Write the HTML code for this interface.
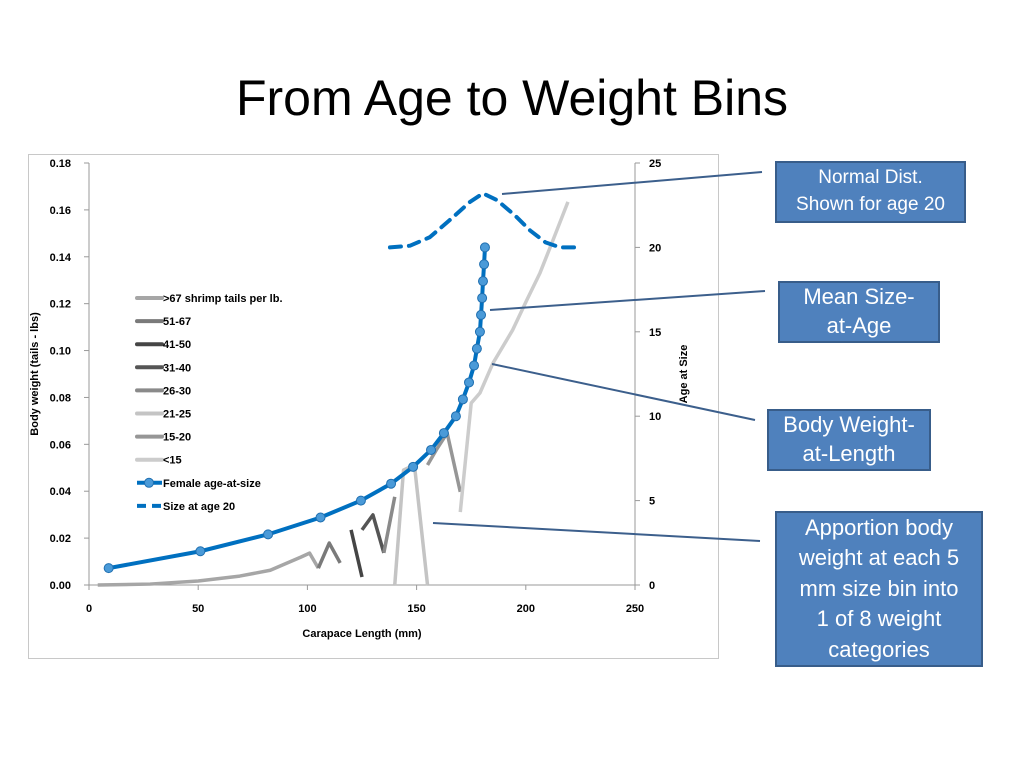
<!DOCTYPE html>
<html><head><meta charset="utf-8"><style>
body{margin:0;width:1024px;height:768px;background:#fff;overflow:hidden;font-family:"Liberation Sans",sans-serif}
svg{position:absolute;left:0;top:0}
.box{position:absolute;background:#4f81bd;border:2px solid #385d8a;color:#fff;text-align:center;box-sizing:border-box;display:flex;align-items:center;justify-content:center;line-height:1.37}
</style></head><body>
<svg id="c" width="1024" height="768"></svg>
<div class="box" style="left:775px;top:161px;width:191px;height:62px;font-size:19px;line-height:1.4">Normal Dist.<br>Shown for age 20</div>
<div class="box" style="left:778px;top:281px;width:162px;height:62px;font-size:22px;line-height:1.3">Mean Size-<br>at-Age</div>
<div class="box" style="left:767px;top:409px;width:164px;height:62px;font-size:22px;line-height:1.3">Body Weight-<br>at-Length</div>
<div class="box" style="left:775px;top:511px;width:208px;height:156px;font-size:22px;line-height:1.38">Apportion body<br>weight at each 5<br>mm size bin into<br>1 of 8 weight<br>categories</div>
<script>
const xTicks=[0,50,100,150,200,250];
const yTicks=["0.00","0.02","0.04","0.06","0.08","0.10","0.12","0.14","0.16","0.18"];
const y2Ticks=[0,5,10,15,20,25];
const legendLabels=[">67 shrimp tails per lb.","51-67","41-50","31-40","26-30","21-25","15-20","<15","Female age-at-size","Size at age 20"];
const legendColors=["#a6a6a6","#7a7a7a","#454545","#555555","#8a8a8a","#c4c4c4","#969696","#cccccc","#0070c0","#0070c0"];
const sGt67=[[4,0],[28,0.0004],[50,0.0017],[69,0.0038],[83,0.0063],[97,0.0119],[101,0.0136],[105,0.0072]];
const s51=[[105,0.0072],[110,0.0179],[115,0.0094]];
const s41=[[120,0.0235],[125,0.0034]];
const s31=[[125,0.0235],[130,0.0299],[135,0.0137]];
const s26=[[135,0.0137],[140,0.0376]];
const s21=[[140,0],[144,0.049],[149,0.0512],[155,0]];
const s15=[[155,0.0512],[159,0.0576],[164,0.0648],[170,0.0397]];
const sLt15=[[170,0.0311],[175,0.0776],[179,0.0819],[185,0.0947],[194,0.1088],[200.5,0.1216],[206.5,0.1331],[212.5,0.1472],[219.3,0.1634]];
const femaleX=[9,51,82,106,124.5,138.3,148.4,156.6,162.5,168,171.2,174,176.3,177.6,179,179.5,180,180.4,180.9,181.3];
const femaleAge=[1,2,3,4,5,6,7,8,9,10,11,12,13,14,15,16,17,18,19,20];
const normX=[137.8,147,156,165,174.5,180.4,186.8,195,202,209,215.7,223];
const normAge=[20,20.1,20.6,21.6,22.7,23.2,22.8,21.9,21,20.3,20,20];
const X0=89,X1=635,Y0=585,Y1=163;
const sx=v=>X0+(v/250)*(X1-X0);
const sy=v=>Y0-(v/0.18)*(Y0-Y1);
const sy2=v=>Y0-(v/25)*(Y0-Y1);
const svg=document.getElementById('c');
const NS="http://www.w3.org/2000/svg";
function mk(t,a,txt){const e=document.createElementNS(NS,t);for(const k in a)e.setAttribute(k,a[k]);if(txt!==undefined)e.textContent=txt;svg.appendChild(e);return e;}
let e;
e=mk('text',{x:512,y:115,'text-anchor':'middle','font-size':50,fill:'#000'},'From Age to Weight Bins');

e=mk('rect',{x:28.5,y:154.5,width:690,height:504,fill:'#fff',stroke:'#c8c8c8'});

mk('line',{x1:X0,y1:Y1,x2:X0,y2:Y0,stroke:'#999'});
mk('line',{x1:X1,y1:Y1,x2:X1,y2:Y0,stroke:'#999'});
mk('line',{x1:X0,y1:Y0,x2:X1,y2:Y0,stroke:'#999'});
yTicks.forEach((t,i)=>{const y=sy(parseFloat(t));mk('line',{x1:X0-5,y1:y,x2:X0,y2:y,stroke:'#999'});
 e=mk('text',{x:71,y:y+4,'text-anchor':'end','font-size':11,'font-weight':'bold'},t);});
y2Ticks.forEach(t=>{const y=sy2(t);mk('line',{x1:X1,y1:y,x2:X1+5,y2:y,stroke:'#999'});
 e=mk('text',{x:649,y:y+4,'font-size':11,'font-weight':'bold'},t);});
xTicks.forEach(t=>{const x=sx(t);mk('line',{x1:x,y1:Y0,x2:x,y2:Y0+5,stroke:'#999'});
 e=mk('text',{x:x,y:612,'text-anchor':'middle','font-size':11,'font-weight':'bold'},t);});
e=mk('text',{x:362,y:637,'text-anchor':'middle','font-size':11,'font-weight':'bold'},'Carapace Length (mm)');
e=mk('text',{x:0,y:0,'text-anchor':'middle','font-size':11,'font-weight':'bold',transform:'translate(38,374) rotate(-90)'},'Body weight (tails - lbs)');
e=mk('text',{x:0,y:0,'text-anchor':'middle','font-size':11,'font-weight':'bold',transform:'translate(687,374) rotate(-90)'},'Age at Size');
const series=[sGt67,s51,s41,s31,s26,s21,s15,sLt15];
const names=['series-gt67','series-51-67','series-41-50','series-31-40','series-26-30','series-21-25','series-15-20','series-lt15'];
series.forEach((s,i)=>{e=mk('polyline',{points:s.map(p=>sx(p[0])+','+sy(p[1])).join(' '),fill:'none',stroke:legendColors[i],'stroke-width':3.5,'stroke-linejoin':'round'});
 });
e=mk('polyline',{points:normX.map((x,i)=>sx(x)+','+sy2(normAge[i])).join(' '),fill:'none',stroke:'#0070c0','stroke-width':4,'stroke-dasharray':'11 8','stroke-linecap':'round'});

e=mk('polyline',{points:femaleX.map((x,i)=>sx(x)+','+sy2(femaleAge[i])).join(' '),fill:'none',stroke:'#0070c0','stroke-width':4});

femaleX.forEach((x,i)=>{e=mk('circle',{cx:sx(x),cy:sy2(femaleAge[i]),r:4.5,fill:'#4a9ad8',stroke:'#1f6fb0','stroke-width':1});
 });
legendLabels.forEach((l,i)=>{const y=298+i*23.1;
 if(i<8){mk('line',{x1:137,y1:y,x2:162,y2:y,stroke:legendColors[i],'stroke-width':4,'stroke-linecap':'round'});}
 else if(i==8){mk('line',{x1:137,y1:y,x2:162,y2:y,stroke:'#0070c0','stroke-width':4});mk('circle',{cx:149,cy:y,r:4.5,fill:'#4a9ad8',stroke:'#1f6fb0'});}
 else{mk('line',{x1:137,y1:y,x2:162,y2:y,stroke:'#0070c0','stroke-width':4,'stroke-dasharray':'9 6'});}
 e=mk('text',{x:163,y:y+4,'font-size':11,'font-weight':'bold'},l);});
[[502,194,762,172],[490,310,765,291],[492,364,755,420],[433,523,760,541]].forEach(c=>{e=mk('line',{x1:c[0],y1:c[1],x2:c[2],y2:c[3],stroke:'#3c5f8c','stroke-width':2});
 });
</script>
</body></html>
